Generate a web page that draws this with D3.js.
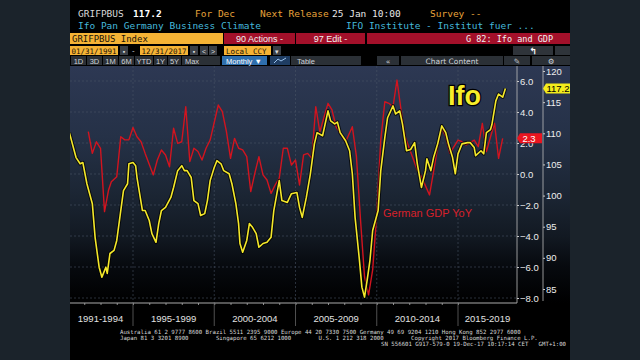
<!DOCTYPE html>
<html><head><meta charset="utf-8">
<script src="https://cdn.jsdelivr.net/npm/d3@7"></script>
<style>body{margin:0;background:#1b232b;}svg{display:block;}</style>
</head><body>
<svg id="c" width="640" height="360"></svg>
<script>
// ---- data ----
const ifoDates = ["1991-02","1991-07","1991-10","1991-12","1992-03","1992-07","1992-09","1992-12","1993-02","1993-05","1993-06","1993-08","1993-11","1994-01","1994-04","1994-06","1994-09","1994-10","1995-01","1995-03","1995-04","1995-08","1995-10","1996-01","1996-03","1996-06","1996-08","1996-10","1997-01","1997-05","1997-07","1997-10","1998-01","1998-03","1998-05","1998-08","1998-10","1999-01","1999-03","1999-06","1999-08","1999-10","2000-01","2000-03","2000-06","2000-08","2000-12","2001-02","2001-05","2001-07","2001-08","2001-10","2002-01","2002-03","2002-05","2002-08","2002-10","2003-01","2003-04","2003-07","2003-09","2004-01","2004-03","2004-07","2004-10","2005-02","2005-04","2005-06","2005-09","2005-12","2006-03","2006-05","2006-09","2007-01","2007-03","2007-06","2007-08","2007-10","2008-02","2008-05","2008-07","2008-09","2008-12","2009-02","2009-04","2009-06","2009-08","2009-10","2010-02","2010-04","2010-07","2010-09","2011-01","2011-03","2011-06","2011-08","2011-11","2012-02","2012-05","2012-07","2012-10","2013-01","2013-02","2013-05","2013-07","2013-10","2014-01","2014-04","2014-06","2014-09","2014-11","2015-01","2015-04","2015-08","2015-10","2016-01","2016-02","2016-06","2016-08","2016-10","2017-01","2017-02","2017-05","2017-07","2017-10","2017-12"];
const ifoValues = [110.1,106.1,105.1,105.3,101.9,98.7,93.3,88.5,86.9,88.5,87.5,90.7,91.2,92.8,97.6,100.8,101.9,105.1,105.3,104.8,102.9,97.6,97.6,96.0,93.9,92.5,95.5,97.6,98.1,99.7,101.3,104.0,104.8,104.0,104.0,102.9,99.2,98.7,96.8,97.1,99.2,102.4,104.5,105.6,105.1,104.0,103.5,101.9,98.7,95.5,92.3,90.9,92.8,95.5,95.0,93.9,91.7,92.3,92.5,93.3,97.6,102.4,99.2,98.9,100.3,100.5,98.1,96.5,99.7,103.5,108.3,110.1,109.6,113.6,112.0,111.5,111.8,110.1,108.8,107.2,103.5,96.5,90.1,85.3,83.7,86.5,89.6,94.4,97.6,104.0,109.3,112.5,114.4,113.1,113.6,111.5,107.2,107.4,108.5,105.1,101.3,104.0,105.9,104.0,106.1,108.3,111.2,110.1,108.3,106.1,103.5,106.7,108.3,108.5,108.5,107.7,106.4,107.2,106.7,110.1,110.6,111.4,115.2,116.3,115.8,117.2];
const gdpDates = ["1992-04","1992-07","1992-10","1993-01","1993-04","1993-07","1993-09","1994-01","1994-04","1994-07","1994-10","1995-01","1995-04","1995-07","1995-10","1996-04","1996-07","1996-10","1997-01","1997-04","1997-07","1997-10","1998-01","1998-04","1998-07","1998-10","1999-01","1999-04","1999-07","1999-10","2000-04","2000-07","2000-10","2001-01","2001-04","2001-07","2001-10","2002-01","2002-04","2002-07","2002-10","2003-01","2003-04","2003-07","2003-10","2004-01","2004-04","2004-07","2004-10","2005-01","2005-04","2005-07","2005-10","2006-01","2006-04","2006-07","2007-01","2007-04","2007-07","2008-02","2008-07","2008-10","2009-01","2009-04","2009-07","2009-10","2010-01","2010-04","2010-07","2010-10","2011-01","2011-04","2011-07","2011-10","2012-01","2012-07","2012-10","2013-04","2013-07","2013-10","2014-01","2014-04","2014-07","2015-01","2015-04","2015-07","2016-01","2016-04","2016-07","2016-10","2017-01","2017-04","2017-07","2017-10"];
const gdpValues = [2.73,1.33,2.08,1.66,-2.43,-1.03,-0.5,-0.17,2.4,2.2,2.2,3.0,2.4,2.08,1.33,-0.06,0.9,1.55,1.23,0.47,2.95,1.98,2.08,4.34,0.8,1.66,1.45,0.9,1.66,2.19,4.45,4.02,2.73,1.01,2.3,1.66,1.55,1.12,-1.14,0.04,1.12,-0.06,-0.39,-1.25,-0.71,-0.28,1.66,1.66,0.58,0.9,-0.71,1.23,1.33,1.01,4.34,2.73,4.56,4.13,3.05,2.08,3.05,1.12,-2.97,-6.63,-7.8,-6.19,-2.54,2.19,4.66,4.56,4.34,6.06,4.13,2.4,1.66,0.26,-0.17,-1.35,0.15,1.76,2.95,2.4,1.33,2.19,2.08,1.87,2.19,1.76,3.27,1.44,2.4,3.27,1.01,2.3];
const periodLabels = ["1991-1994","1995-1999","2000-2004","2005-2009","2010-2014","2015-2019"];
const periodStarts = ["1991-01","1995-01","2000-01","2005-01","2010-01","2015-01"];
const gdpTicks = [-8,-6,-4,-2,0,2,4,6];
const ifoTicks = [85,90,95,100,105,110,115,120];
const lastIfo = 117.2, lastGdp = 2.3;

const svg = d3.select("#c");
const parse = d3.timeParse("%Y-%m");
const mono = "'DejaVu Sans Mono', 'Liberation Mono', monospace";
const sans = "'Liberation Sans', Arial, sans-serif";

// window
svg.append("rect").attr("x",70).attr("y",0).attr("width",500).attr("height",360).attr("fill","#000");

// ---- header ----
const h1 = [["GRIFPBUS",78,"#d8d8d8","normal"],["117.2",133,"#ffffff","bold"],["For Dec",195,"#e8a33a","normal"],["Next Release",260,"#e8a33a","normal"],["25 Jan 10:00",332,"#e8e8e8","normal"],["Survey --",430,"#e8a33a","normal"]];
h1.forEach(d=>svg.append("text").attr("x",d[1]).attr("y",17).text(d[0]).attr("fill",d[2]).attr("font-weight",d[3]).attr("font-family",mono).attr("font-size",9.5));
svg.append("text").attr("x",78).attr("y",29).text("Ifo Pan Germany Business Climate").attr("fill","#45b9dc").attr("font-family",mono).attr("font-size",9.5);
svg.append("text").attr("x",346).attr("y",29).text("IFO Institute - Institut fuer ...").attr("fill","#45b9dc").attr("font-family",mono).attr("font-size",9.5);

// row 3
svg.append("rect").attr("x",70).attr("y",33).attr("width",153).attr("height",11).attr("fill","#f5b335");
svg.append("text").attr("x",72).attr("y",42).text("GRIFPBUS Index").attr("fill","#1a1208").attr("font-family",mono).attr("font-size",9);
[[224,71,"90 Actions -"],[296,69,"97 Edit -"]].forEach(d=>{
  svg.append("rect").attr("x",d[0]).attr("y",33).attr("width",d[1]).attr("height",11).attr("fill","#a3102a");
  svg.append("text").attr("x",d[0]+d[1]/2).attr("y",42).attr("text-anchor","middle").text(d[2]).attr("fill","#f2f2f2").attr("font-family",sans).attr("font-size",9);
});
svg.append("rect").attr("x",367).attr("y",33).attr("width",203).attr("height",11).attr("fill","#a3102a");
svg.append("text").attr("x",553).attr("y",42).attr("text-anchor","end").text("G 82: Ifo and GDP").attr("fill","#f2f2f2").attr("font-family",mono).attr("font-size",8.5);

// row 4
[[70,48,"01/31/1991"],[140,48,"12/31/2017"]].forEach(d=>{
  svg.append("rect").attr("x",d[0]).attr("y",46).attr("width",d[1]).attr("height",9).attr("fill","#f5b335");
  svg.append("text").attr("x",d[0]+d[1]/2).attr("y",53.5).attr("text-anchor","middle").text(d[2]).attr("fill","#1a1208").attr("font-family",mono).attr("font-size",7.5);
});
svg.append("rect").attr("x",224).attr("y",46).attr("width",47).attr("height",9).attr("fill","#f5b335");
svg.append("text").attr("x",226).attr("y",53.5).text("Local CCY").attr("fill","#1a1208").attr("font-family",mono).attr("font-size",7.5);
[[120,"▪"],[190,"▪"],[200,"<"],[209,">"],[273,"▾"]].forEach(d=>{
  svg.append("rect").attr("x",d[0]).attr("y",46).attr("width",8).attr("height",9).attr("fill","#3a3f46");
  svg.append("text").attr("x",d[0]+4).attr("y",53.5).attr("text-anchor","middle").text(d[1]).attr("fill","#ddd").attr("font-family",sans).attr("font-size",7);
});
svg.append("text").attr("x",132).attr("y",53).text("-").attr("fill","#ccc").attr("font-family",sans).attr("font-size",8);
svg.append("rect").attr("x",513).attr("y",46).attr("width",40).attr("height",9).attr("fill","#2f343a");
svg.append("rect").attr("x",555).attr("y",46).attr("width",15).attr("height",9).attr("fill","#2f343a");
svg.append("text").attr("x",533).attr("y",54).attr("text-anchor","middle").text("↰").attr("fill","#fff").attr("font-family","'DejaVu Sans'").attr("font-size",9).attr("font-weight","bold");

// row 5 buttons
const btns = [[71,15,"1D"],[87,15,"3D"],[103,15,"1M"],[119,15,"6M"],[135,18,"YTD"],[154,13,"1Y"],[168,13,"5Y"],[182,38,"Max"]];
btns.forEach(d=>{
  svg.append("rect").attr("x",d[0]).attr("y",56).attr("width",d[1]).attr("height",9).attr("fill","#2b3036");
  svg.append("text").attr("x",d[0]+(d[2]==="Max"?10:d[1]/2)).attr("y",63.5).attr("text-anchor","middle").text(d[2]).attr("fill","#cfd3d8").attr("font-family",sans).attr("font-size",7.5);
});
svg.append("rect").attr("x",222).attr("y",56).attr("width",45).attr("height",9).attr("fill","#2f6fae");
svg.append("text").attr("x",244).attr("y",63.5).attr("text-anchor","middle").text("Monthly ▼").attr("fill","#fff").attr("font-family",sans).attr("font-size",7.5);
svg.append("rect").attr("x",270).attr("y",56).attr("width",20).attr("height",9).attr("fill","#1f3d63");
svg.append("path").attr("d","M274,63 L278,59 L281,61 L286,58").attr("stroke","#9cc3ee").attr("fill","none").attr("stroke-width",1);
svg.append("rect").attr("x",291).attr("y",56).attr("width",70).attr("height",9).attr("fill","#2b3036");
svg.append("text").attr("x",297).attr("y",63.5).text("Table").attr("fill","#cfd3d8").attr("font-family",sans).attr("font-size",7.5);
[[377,22,"«"],[401,102,"Chart Content"],[504,26,"✎"],[532,38,"⚙"]].forEach(d=>{
  svg.append("rect").attr("x",d[0]).attr("y",56).attr("width",d[1]).attr("height",9).attr("fill","#2b3036");
  svg.append("text").attr("x",d[0]+d[1]/2).attr("y",63.5).attr("text-anchor","middle").text(d[2]).attr("fill","#cfd3d8").attr("font-family","'DejaVu Sans', sans-serif").attr("font-size",7.5);
});

// ---- plot background ----
const defs = svg.append("defs");
const g = defs.append("linearGradient").attr("id","bg").attr("x1",0).attr("y1",0).attr("x2",0).attr("y2",1);
[[0,"#2d3853"],[0.3,"#253147"],[0.55,"#1b2533"],[0.72,"#121922"],[0.84,"#070a0f"],[1,"#000"]].forEach(s=>g.append("stop").attr("offset",s[0]).attr("stop-color",s[1]));
svg.append("rect").attr("x",70).attr("y",66).attr("width",500).attr("height",237).attr("fill","url(#bg)");

// ---- scales ----
const x = d3.scaleTime().domain([parse("1991-01"), parse("2015-01")]).range([68,458]);
const yG = d3.scaleLinear().domain([-8,6]).range([298,81]);
const yI = d3.scaleLinear().domain([85,120]).range([289,71]);
const plotL = 70, plotR = 517, plotT = 66, plotB = 303;

// grid
gdpTicks.forEach(t=>svg.append("line").attr("x1",plotL).attr("x2",plotR).attr("y1",yG(t)).attr("y2",yG(t)).attr("stroke","#4a5668").attr("stroke-width",0.7).attr("stroke-dasharray","2,2").attr("opacity",0.8));
periodStarts.slice(1).forEach(s=>svg.append("line").attr("x1",x(parse(s))).attr("x2",x(parse(s))).attr("y1",plotT).attr("y2",plotB).attr("stroke","#4a5668").attr("stroke-width",0.7).attr("stroke-dasharray","2,2").attr("opacity",0.8));

// lines
defs.append("clipPath").attr("id","pc").append("rect").attr("x",plotL).attr("y",plotT).attr("width",plotR-plotL).attr("height",plotB-plotT);
const gdpData = gdpDates.map((d,i)=>({d:parse(d),v:gdpValues[i]}));
const ifoData = ifoDates.map((d,i)=>({d:parse(d),v:ifoValues[i]}));
const lg = d3.line().x(p=>x(p.d)).y(p=>yG(p.v));
const li = d3.line().x(p=>x(p.d)).y(p=>yI(p.v));
const pg = svg.append("g").attr("clip-path","url(#pc)");
pg.append("path").datum(gdpData).attr("d",lg).attr("fill","none").attr("stroke","#d2141f").attr("stroke-width",1.4).attr("stroke-linejoin","round");
pg.append("path").datum(ifoData).attr("d",li).attr("fill","none").attr("stroke","#000").attr("stroke-opacity",0.75).attr("stroke-width",3.6).attr("stroke-linejoin","round");
pg.append("path").datum(ifoData).attr("d",li).attr("fill","none").attr("stroke","#f4e82a").attr("stroke-width",1.6).attr("stroke-linejoin","round");

// annotations
svg.append("text").attr("x",448).attr("y",105).text("Ifo").attr("fill","#f7ee2a").attr("stroke","#000").attr("stroke-width",2.5).attr("paint-order","stroke").attr("font-family",sans).attr("font-weight","bold").attr("font-size",27);
svg.append("text").attr("x",383).attr("y",217).text("German GDP YoY").attr("fill","#d8202a").attr("font-family",sans).attr("font-size",11);

// right axes
const axG = svg.append("g").attr("transform","translate(517,0)").call(d3.axisRight(yG).tickValues(gdpTicks).tickFormat(d3.format(".1f")).tickSize(2).tickPadding(1));
const axI = svg.append("g").attr("transform","translate(543,0)").call(d3.axisRight(yI).tickValues(ifoTicks).tickFormat(d3.format("d")).tickSize(2).tickPadding(1));
[axG,axI].forEach(a=>{
  a.select(".domain").remove();
  a.selectAll("line").attr("stroke","#ccc");
  a.selectAll("text").attr("fill","#eee").attr("font-family",sans).attr("font-size",9.5);
});
svg.append("line").attr("x1",517).attr("x2",517).attr("y1",66).attr("y2",303).attr("stroke","#bbb").attr("stroke-width",0.8);
svg.append("line").attr("x1",543).attr("x2",543).attr("y1",66).attr("y2",301).attr("stroke","#bbb").attr("stroke-width",0.8);

// last value tags
const yi = yI(lastIfo);
svg.append("path").attr("d",`M543,${yi} L546,${yi-5} L570,${yi-5} L570,${yi+5} L546,${yi+5} Z`).attr("fill","#f4ec1c");
svg.append("text").attr("x",558).attr("y",yi+3.5).attr("text-anchor","middle").text(lastIfo.toFixed(1)).attr("fill","#000").attr("font-family",sans).attr("font-size",9.5);
const yg = yG(lastGdp);
svg.append("path").attr("d",`M517,${yg} L520,${yg-5} L542,${yg-5} L542,${yg+5} L520,${yg+5} Z`).attr("fill","#ea1520");
svg.append("text").attr("x",529).attr("y",yg+3.5).attr("text-anchor","middle").text(lastGdp.toFixed(1)).attr("fill","#fff").attr("font-family",sans).attr("font-size",9.5);

// x axis
const ax = svg.append("g").attr("transform",`translate(0,${plotB})`).call(d3.axisBottom(x).ticks(d3.timeYear.every(1)).tickSize(2).tickFormat(""));
ax.select(".domain").remove();
ax.selectAll("line").attr("stroke","#888");
ax.selectAll(".tick").filter(d=>x(d)<plotL||x(d)>plotR).remove();
svg.append("line").attr("x1",plotL).attr("x2",plotR).attr("y1",plotB).attr("y2",plotB).attr("stroke","#aaa").attr("stroke-width",1);
const bounds = periodStarts.map(s=>Math.max(plotL-2,x(parse(s)))).concat([plotR]);
periodLabels.forEach((l,i)=>{
  svg.append("text").attr("x",(bounds[i]+bounds[i+1])/2).attr("y",322).attr("text-anchor","middle").text(l).attr("fill","#e2e2e2").attr("font-family",sans).attr("font-size",9.5);
  if(i>0) svg.append("line").attr("x1",bounds[i]).attr("x2",bounds[i]).attr("y1",plotB).attr("y2",326).attr("stroke","#666").attr("stroke-width",0.8);
});

// footer
const ft = [["Australia 61 2 9777 8600 Brazil 5511 2395 9000 Europe 44 20 7330 7500 Germany 49 69 9204 1210 Hong Kong 852 2977 6000",120,334,"start"],
["Japan 81 3 3201 8900        Singapore 65 6212 1000        U.S. 1 212 318 2000        Copyright 2017 Bloomberg Finance L.P.",120,340,"start"],
["SN 556601 G917-579-0 19-Dec-17 10:17:14 CET   GMT+1:00",566,346,"end"]];
ft.forEach(f=>svg.append("text").attr("x",f[1]).attr("y",f[2]).attr("text-anchor",f[3]).text(f[0]).attr("fill","#d8d8d8").attr("font-family",mono).attr("font-size",5.7).style("white-space","pre"));
</script>
</body></html>
